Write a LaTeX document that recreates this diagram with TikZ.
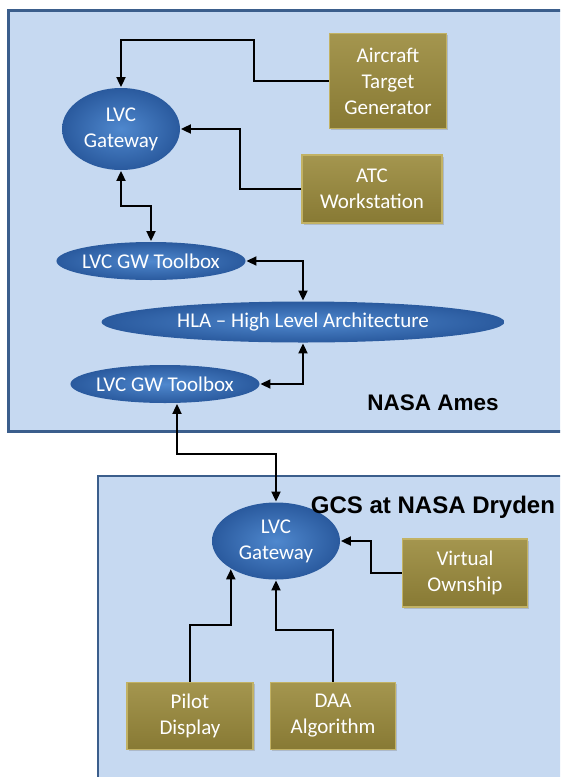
\documentclass[tikz,border=0pt]{standalone}
\usepackage{fontspec}
\setmainfont{Carlito}
\newfontfamily\sitefont{Liberation Sans}
\usetikzlibrary{arrows.meta,shapes.geometric,shadows}
\definecolor{siteblue}{HTML}{C6D9F1}
\definecolor{siteline}{HTML}{3B5E8C}
\definecolor{gwlight}{HTML}{4F88CE}
\definecolor{gwdark}{HTML}{2A5A9E}
\definecolor{boxfill}{HTML}{9A8A3B}
\definecolor{boxedge}{HTML}{C2B264}

\begin{document}
\begin{tikzpicture}[x=1pt,y=-1pt,>={Triangle[length=10pt,width=9pt]},line width=1.8pt,
  site/.style={draw=siteline,fill=siteblue},
  gw/.style={ellipse,inner sep=-2pt,inner color=gwlight,outer color=gwdark,text=white,
    font=\fontsize{21}{26}\selectfont,align=center},
  unit/.style={rectangle,inner sep=0pt,top color=boxfill!90!white,bottom color=boxfill!88!black,
    draw=boxedge,line width=1.5pt,text=white,font=\fontsize{21}{26}\selectfont,align=center,
    drop shadow={opacity=0.35,shadow xshift=1.5pt,shadow yshift=-1.5pt}},
  sitelabel/.style={font=\sitefont\bfseries\fontsize{22.5}{26}\selectfont}]
\useasboundingbox (0,0) rectangle (560,777);
\clip (0,0) rectangle (560,777);
\draw[site,line width=3pt] (8,10) rectangle (575,431);
\draw[site,line width=2pt] (98,476) rectangle (575,790);

\node[gw,minimum width=118pt,minimum height=82pt] (gwames) at (121,129) {LVC\\Gateway};
\node[unit,minimum width=117pt,minimum height=95pt] (atg) at (388,81) {Aircraft\\Target\\Generator};
\node[unit,minimum width=140pt,minimum height=68pt] (atc) at (372,189) {ATC\\Workstation};
\node[gw,minimum width=188pt,minimum height=38pt] (tbames) at (151,261) {LVC GW Toolbox};
\node[gw,minimum width=403pt,minimum height=41pt] (hla) at (303,322) {HLA -- High Level Architecture};
\node[gw,minimum width=186pt,minimum height=38pt] (tbdryden) at (165,384) {LVC GW Toolbox};
\node[sitelabel] (ames) at (433,403) {NASA Ames};
\node[gw,minimum width=128pt,minimum height=77pt] (gwdryden) at (276,541) {LVC\\Gateway};
\node[sitelabel,font=\sitefont\bfseries\fontsize{24}{28}\selectfont] (gcs) at (433,507) {GCS at NASA Dryden};
\node[unit,minimum width=125pt,minimum height=68pt] (vo) at (465,573) {Virtual\\Ownship};
\node[unit,minimum width=126pt,minimum height=67pt] (pd) at (190,716) {Pilot\\Display};
\node[unit,minimum width=125pt,minimum height=67pt] (daa) at (333,716) {DAA\\Algorithm};

\draw[->] (atg.west) -- ++(-75,0) -- ++(0,-41) -| (gwames.north);
\draw[->] (atc.west) -- ++(-61,0) |- (gwames.east);
\draw[<->] (gwames.south) -- ++(0,35) -| (tbames.north);
\draw[<->] (tbames.east) -| (hla.north);
\draw[<->] (tbdryden.east) -| (hla.south);
\draw[<->] ([xshift=12pt]tbdryden.south) -- ++(0,50) -| (gwdryden.north);
\draw[->] (vo.west) -- ++(-31,0) |- (gwdryden.east);
\draw[->] (pd.north) -- ++(0,-57) -| (gwdryden.212);
\draw[->] (daa.north) -- ++(0,-52) -| (gwdryden.south);
\end{tikzpicture}
\end{document}
